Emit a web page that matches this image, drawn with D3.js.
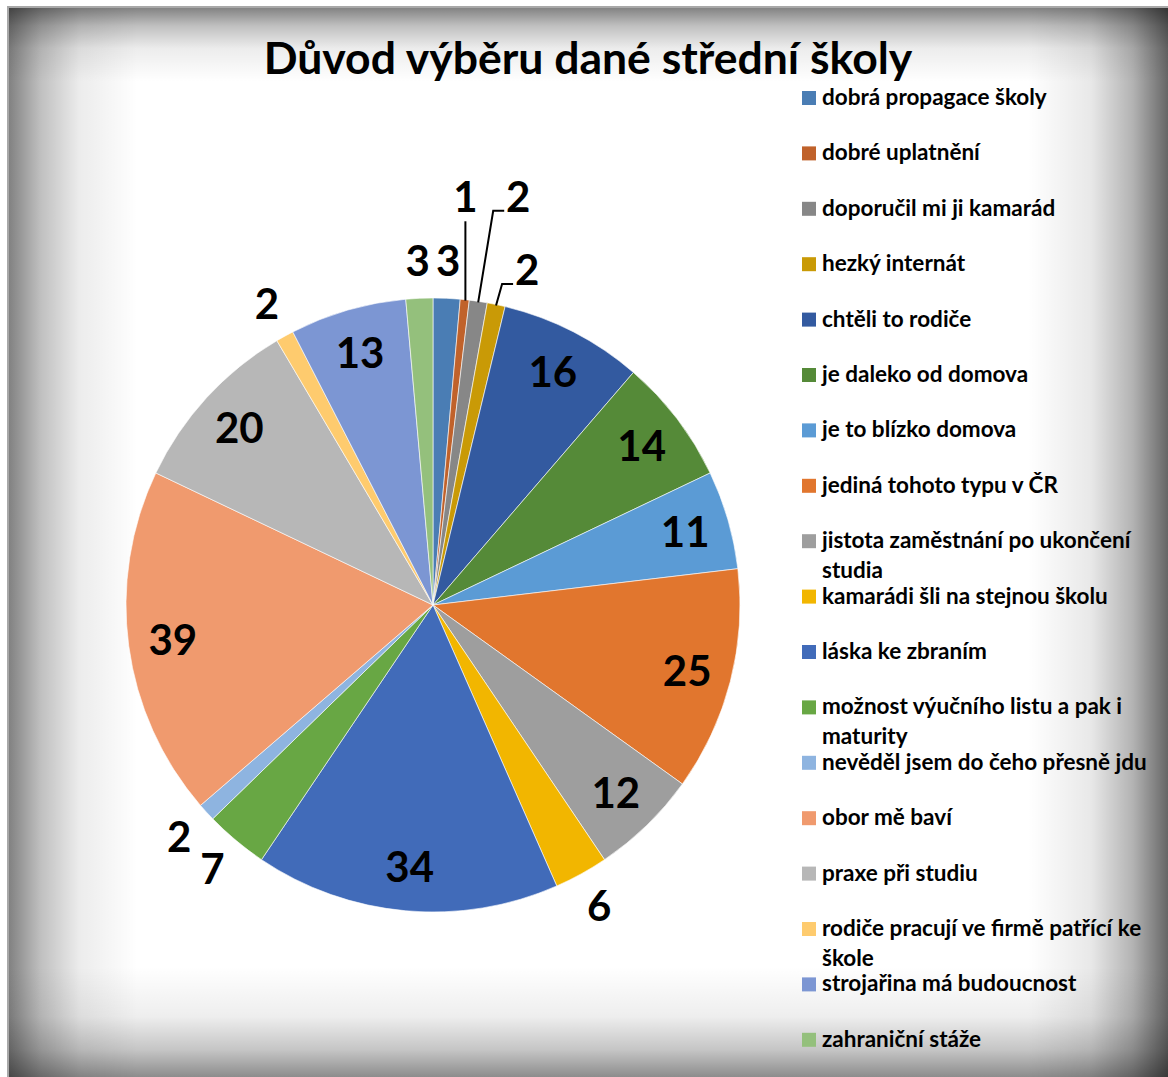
<!DOCTYPE html>
<html>
<head>
<meta charset="utf-8">
<script src="https://cdn.jsdelivr.net/npm/d3@7"></script>
<style>
  html, body { margin: 0; padding: 0; background: #fff; }
  svg { display: block; }
</style>
</head>
<body>
<div id="chart"></div>
<script>
const categories = [
  "dobrá propagace školy", "dobré uplatnění", "doporučil mi ji kamarád", "hezký internát",
  "chtěli to rodiče", "je daleko od domova", "je to blízko domova", "jediná tohoto typu v ČR",
  "jistota zaměstnání po ukončení studia", "kamarádi šli na stejnou školu", "láska ke zbraním",
  "možnost výučního listu a pak i maturity", "nevěděl jsem do čeho přesně jdu", "obor mě baví",
  "praxe při studiu", "rodiče pracují ve firmě patřící ke škole", "strojařina má budoucnost",
  "zahraniční stáže"
];
const values = [3, 1, 2, 2, 16, 14, 11, 25, 12, 6, 34, 7, 2, 39, 20, 2, 13, 3];
const colors = [
  "#4a7db4", "#c0622b", "#878787", "#c99a06", "#335aa0", "#558a38",
  "#5b9bd5", "#e1762e", "#9e9e9e", "#f2b600", "#416bb9", "#68a744",
  "#8eb4e0", "#f09a6e", "#b7b7b7", "#fecb6e", "#7c96d3", "#94c07c"
];
const title = "Důvod výběru dané střední školy";

const W = 1168, H = 1077;
const cx = 433, cy = 605, R = 307;

const svg = d3.select("#chart").append("svg")
  .attr("width", W).attr("height", H);

const defs = svg.append("defs");

// panel vignette: four fading strips
function fade(id, x1, y1, x2, y2, a) {
  const g = defs.append("linearGradient").attr("id", id)
    .attr("x1", x1).attr("y1", y1).attr("x2", x2).attr("y2", y2);
  [[0, a], [0.25, a * 0.5], [0.55, a * 0.15], [1, 0]].forEach(s => {
    g.append("stop").attr("offset", s[0]).attr("stop-color", "#000").attr("stop-opacity", s[1]);
  });
}
fade("gl", 0, 0, 1, 0, 0.5);
fade("gr", 1, 0, 0, 0, 0.6);
fade("gt", 0, 0, 0, 1, 0.5);
fade("gb", 0, 1, 0, 0, 0.45);

const px = 8, py = 7, pw = W - px + 4, ph = H - py + 4;
svg.append("rect").attr("x", px).attr("y", py).attr("width", pw).attr("height", ph)
  .attr("fill", "#fff");
svg.append("rect").attr("x", px).attr("y", py).attr("width", 130).attr("height", ph).attr("fill", "url(#gl)");
svg.append("rect").attr("x", W - 140).attr("y", py).attr("width", 140).attr("height", ph).attr("fill", "url(#gr)");
svg.append("rect").attr("x", px).attr("y", py).attr("width", pw).attr("height", 75).attr("fill", "url(#gt)");
svg.append("rect").attr("x", px).attr("y", H - 110).attr("width", pw).attr("height", 110).attr("fill", "url(#gb)");
svg.append("rect").attr("x", px).attr("y", py).attr("width", pw).attr("height", ph)
  .attr("fill", "none").attr("stroke", "#a8a8a8").attr("stroke-width", 2);

// title
svg.append("text")
  .attr("x", 588).attr("y", 74)
  .attr("text-anchor", "middle")
  .style("font-family", "Lato, 'Open Sans', sans-serif")
  .style("font-weight", "bold")
  .style("font-size", "44.5px")
  .attr("fill", "#000")
  .text(title);

// pie
const pie = d3.pie().sort(null).value(d => d);
const arcs = pie(values);
const arc = d3.arc().innerRadius(0).outerRadius(R);

const g = svg.append("g").attr("transform", `translate(${cx},${cy})`);
g.selectAll("path.slice")
  .data(arcs)
  .enter()
  .append("path")
  .attr("class", "slice")
  .attr("d", arc)
  .attr("fill", (d, i) => colors[i])
  .attr("stroke", "#fff")
  .attr("stroke-width", 0.6);

// label layout: big slices inside, small ones outside (some with callouts)
const deg = Math.PI / 180;
const callouts = { 1: { r: 409, da: -1.4 }, 2: { r: 417, da: 3.3 }, 3: { r: 348, da: 3.8 } };
function polar(r, a) { return [r * Math.sin(a), -r * Math.cos(a)]; }

arcs.forEach((d, i) => {
  const mid = (d.startAngle + d.endAngle) / 2;
  let pos, line = null;
  if (d.value >= 11) {
    pos = polar(R * 0.855, mid);
  } else if (callouts[i]) {
    const c = callouts[i];
    pos = polar(c.r, mid + c.da * deg);
    const e = polar(R - 1, mid);
    if (Math.abs(pos[0] - e[0]) < 5) {
      line = [[pos[0], e[1]], [pos[0], pos[1] + 24]];
    } else {
      line = [e, [pos[0] - 25, pos[1] + 14], [pos[0] - 14, pos[1] + 14]];
    }
  } else {
    pos = polar(R + 37, mid);
  }
  if (line) {
    g.append("path")
      .attr("d", d3.line()(line))
      .attr("fill", "none")
      .attr("stroke", "#000")
      .attr("stroke-width", 2);
  }
  g.append("text")
    .attr("x", pos[0]).attr("y", pos[1])
    .attr("dy", "0.36em")
    .attr("text-anchor", "middle")
    .style("font-family", "Lato, 'Open Sans', sans-serif")
    .style("font-weight", "bold")
    .style("font-size", "42px")
    .attr("fill", "#000")
    .text(d.value);
});

// legend
const legend = svg.append("g").attr("transform", "translate(802,98)");
const step = 55.4, maxW = 336;
categories.forEach((name, i) => {
  const row = legend.append("g").attr("transform", `translate(0,${i * step})`);
  row.append("rect").attr("x", 0).attr("y", -7).attr("width", 14).attr("height", 14)
    .attr("fill", colors[i]);
  const t = row.append("text")
    .attr("x", 20).attr("y", 7)
    .style("font-family", "Lato, 'Open Sans', sans-serif")
    .style("font-weight", "bold")
    .style("font-size", "22.5px")
    .attr("fill", "#000");
  const words = name.split(" ");
  let line = [], tspan = t.append("tspan").attr("x", 20).attr("y", 7), lineNo = 0;
  words.forEach(w => {
    line.push(w);
    tspan.text(line.join(" "));
    if (tspan.node().getComputedTextLength() > maxW && line.length > 1) {
      line.pop();
      tspan.text(line.join(" "));
      line = [w];
      lineNo++;
      tspan = t.append("tspan").attr("x", 20).attr("y", 7 + lineNo * 29.5).text(w);
    }
  });
});
</script>
</body>
</html>
